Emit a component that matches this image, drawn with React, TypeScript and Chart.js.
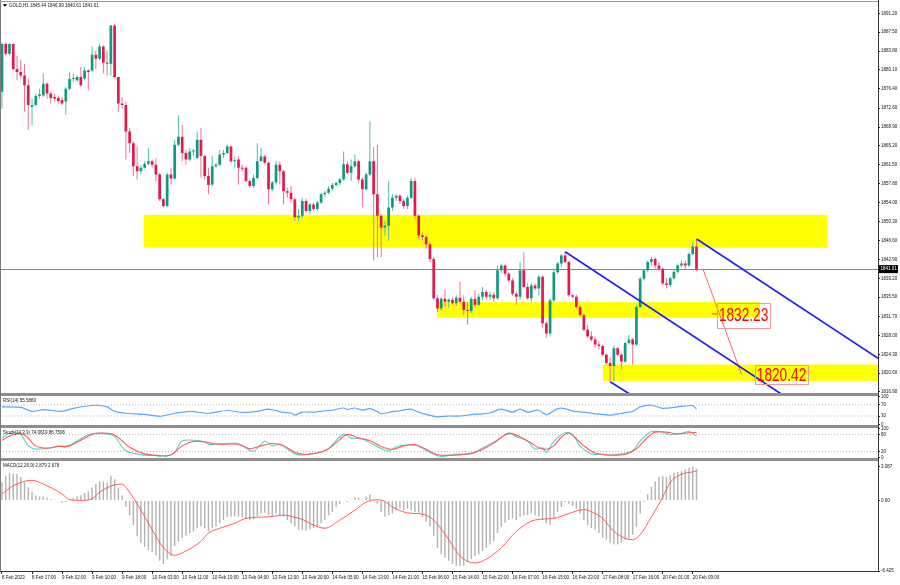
import React, { useEffect, useRef } from "react";
import { Chart, registerables } from "chart.js";

Chart.register(...registerables);

// ---------------- data ----------------
const OPEN = [
  1875.8, 1885.2, 1883.3, 1885.2, 1880.3, 1879.7, 1879.0, 1877.1, 1872.9, 1873.2,
  1875.0, 1875.1, 1877.4, 1875.5, 1874.8, 1874.6, 1874.2, 1873.9, 1876.4, 1878.3,
  1878.1, 1878.7, 1878.4, 1880.0, 1880.0, 1883.1, 1882.3, 1884.7, 1881.5, 1881.3,
  1888.8, 1878.7, 1873.5, 1873.2, 1868.0, 1865.7, 1861.2, 1860.2, 1860.9, 1861.7,
  1862.2, 1861.5, 1859.6, 1854.7, 1853.4, 1859.6, 1858.8, 1865.4, 1867.0, 1863.8,
  1862.5, 1864.1, 1862.8, 1866.4, 1863.2, 1859.3, 1857.6, 1861.2, 1861.5, 1863.5,
  1863.8, 1865.1, 1862.2, 1862.5, 1860.9, 1860.9, 1858.3, 1857.3, 1858.9, 1862.2,
  1863.1, 1861.9, 1856.7, 1858.0, 1861.5, 1860.2, 1856.3, 1856.0, 1854.7, 1851.2,
  1851.5, 1854.4, 1852.4, 1853.7, 1852.8, 1854.1, 1855.7, 1856.0, 1856.8, 1857.5,
  1857.9, 1858.6, 1861.6, 1859.9, 1861.2, 1862.2, 1858.6, 1856.7, 1859.6, 1862.2,
  1855.7, 1851.5, 1849.2, 1849.5, 1853.1, 1855.0, 1855.4, 1854.4, 1853.4, 1855.0,
  1858.3, 1851.5, 1847.6, 1847.3, 1845.9, 1843.0, 1835.3, 1833.3, 1835.2, 1834.6,
  1835.0, 1834.3, 1835.4, 1834.6, 1833.0, 1832.8, 1835.2, 1834.0, 1835.6, 1836.5,
  1835.6, 1836.0, 1835.3, 1840.8, 1841.7, 1840.1, 1838.8, 1836.2, 1835.6, 1840.8,
  1837.5, 1835.3, 1837.8, 1837.2, 1839.5, 1830.4, 1828.4, 1834.9, 1840.4, 1842.1,
  1843.7, 1842.4, 1835.9, 1835.6, 1833.6, 1832.0, 1829.1, 1827.8, 1827.2, 1826.2,
  1825.9, 1824.2, 1822.6, 1822.0, 1825.5, 1824.2, 1822.9, 1826.5, 1827.2, 1826.2,
  1833.6, 1839.1, 1840.8, 1842.4, 1843.0, 1841.7, 1841.1, 1838.2, 1837.9, 1839.2,
  1840.5, 1841.7, 1842.1, 1841.7, 1844.0, 1845.44,
];
const HIGH = [
  1885.5, 1885.5, 1885.4, 1885.3, 1882.9, 1882.0, 1881.3, 1878.4, 1874.5, 1875.5,
  1876.4, 1879.4, 1877.7, 1875.8, 1875.5, 1875.1, 1874.8, 1876.8, 1879.7, 1879.4,
  1879.0, 1880.7, 1880.7, 1880.3, 1884.7, 1883.9, 1885.2, 1884.9, 1883.9, 1888.9,
  1889.1, 1878.8, 1874.8, 1873.9, 1868.7, 1866.1, 1865.1, 1861.5, 1862.2, 1864.8,
  1862.5, 1862.8, 1859.9, 1855.0, 1859.9, 1860.9, 1866.4, 1871.2, 1869.3, 1864.4,
  1864.8, 1864.6, 1868.0, 1868.7, 1863.5, 1860.9, 1863.2, 1861.9, 1864.4, 1864.4,
  1865.4, 1865.2, 1863.1, 1863.1, 1861.5, 1861.2, 1858.6, 1859.6, 1865.7, 1864.8,
  1863.5, 1862.2, 1858.3, 1862.2, 1862.2, 1860.5, 1857.0, 1857.3, 1855.0, 1852.8,
  1855.0, 1854.8, 1854.0, 1854.1, 1854.4, 1856.0, 1856.4, 1857.3, 1857.9, 1858.2,
  1858.9, 1864.1, 1862.2, 1862.5, 1863.5, 1862.5, 1859.0, 1859.9, 1870.0, 1865.0,
  1865.4, 1851.8, 1850.5, 1858.3, 1855.7, 1855.7, 1855.7, 1854.7, 1855.4, 1858.9,
  1858.9, 1851.8, 1848.2, 1847.6, 1846.3, 1843.4, 1836.0, 1835.5, 1837.0, 1835.3,
  1835.5, 1835.9, 1838.5, 1835.9, 1834.6, 1835.6, 1836.9, 1836.2, 1837.5, 1836.9,
  1836.5, 1836.5, 1841.7, 1842.0, 1841.9, 1840.4, 1839.2, 1836.6, 1842.4, 1844.3,
  1838.2, 1838.2, 1838.2, 1839.8, 1839.8, 1830.8, 1835.3, 1841.0, 1842.4, 1844.0,
  1844.5, 1842.7, 1836.2, 1836.0, 1834.0, 1832.3, 1830.0, 1828.8, 1827.8, 1826.8,
  1826.2, 1824.5, 1823.6, 1826.0, 1825.8, 1824.5, 1826.8, 1828.1, 1827.5, 1834.0,
  1839.5, 1841.1, 1842.7, 1843.4, 1843.4, 1842.4, 1841.4, 1839.2, 1839.5, 1840.8,
  1842.1, 1842.7, 1842.7, 1844.3, 1846.3, 1846.99,
];
const LOW = [
  1872.5, 1882.9, 1882.9, 1880.0, 1878.1, 1878.4, 1871.9, 1868.3, 1869.3, 1872.9,
  1874.5, 1874.8, 1874.5, 1873.5, 1873.9, 1873.5, 1873.2, 1871.3, 1876.1, 1877.7,
  1877.7, 1876.8, 1878.1, 1876.1, 1879.7, 1880.3, 1882.0, 1879.4, 1879.0, 1879.0,
  1878.4, 1871.9, 1872.5, 1862.5, 1863.8, 1859.3, 1858.6, 1859.6, 1860.7, 1861.5,
  1860.9, 1858.3, 1854.4, 1853.1, 1853.1, 1857.6, 1858.6, 1865.1, 1862.2, 1861.5,
  1862.2, 1863.2, 1862.5, 1859.0, 1858.6, 1855.7, 1857.3, 1860.9, 1861.2, 1862.8,
  1863.5, 1861.9, 1860.9, 1857.6, 1860.2, 1858.0, 1857.0, 1857.0, 1858.6, 1862.2,
  1861.5, 1853.7, 1856.3, 1857.6, 1857.6, 1853.7, 1855.0, 1854.1, 1850.5, 1850.5,
  1851.0, 1852.0, 1851.8, 1852.5, 1852.5, 1853.8, 1855.2, 1855.7, 1856.4, 1857.2,
  1857.5, 1858.3, 1859.6, 1858.3, 1860.9, 1858.0, 1853.1, 1856.4, 1859.3, 1842.7,
  1843.4, 1843.4, 1847.6, 1846.6, 1852.4, 1854.4, 1853.8, 1852.8, 1852.8, 1854.7,
  1850.8, 1847.0, 1846.7, 1845.0, 1842.3, 1835.0, 1832.6, 1832.8, 1833.6, 1833.5,
  1833.9, 1833.8, 1834.2, 1832.0, 1830.1, 1832.4, 1833.6, 1833.8, 1834.9, 1835.2,
  1834.9, 1834.6, 1835.0, 1840.2, 1839.6, 1838.5, 1835.8, 1834.0, 1835.0, 1837.2,
  1835.0, 1834.6, 1836.9, 1835.9, 1829.5, 1827.5, 1827.8, 1834.6, 1840.1, 1841.5,
  1842.2, 1835.6, 1835.3, 1833.3, 1831.7, 1828.8, 1827.5, 1826.8, 1825.5, 1825.2,
  1823.9, 1822.3, 1819.0, 1819.0, 1823.9, 1821.3, 1822.6, 1826.2, 1822.3, 1825.9,
  1833.3, 1838.8, 1840.4, 1841.7, 1841.1, 1840.8, 1837.8, 1837.2, 1837.5, 1839.0,
  1840.2, 1841.4, 1840.8, 1841.4, 1843.7, 1840.61,
];
const CLOSE = [
  1885.2, 1883.3, 1885.2, 1880.3, 1879.7, 1879.0, 1877.1, 1873.2, 1873.2, 1875.0,
  1875.3, 1877.4, 1875.5, 1874.6, 1874.5, 1874.0, 1873.5, 1876.4, 1878.3, 1878.5,
  1878.7, 1877.1, 1880.0, 1879.7, 1883.1, 1882.3, 1884.7, 1881.5, 1881.3, 1888.8,
  1878.7, 1873.5, 1873.2, 1868.0, 1865.7, 1861.2, 1860.2, 1860.9, 1861.7, 1862.2,
  1861.5, 1859.6, 1854.7, 1853.4, 1859.6, 1858.8, 1865.4, 1867.0, 1863.8, 1862.5,
  1864.1, 1864.3, 1866.4, 1863.2, 1859.3, 1857.5, 1861.2, 1861.5, 1863.5, 1863.8,
  1865.1, 1862.2, 1862.3, 1860.9, 1860.7, 1858.3, 1857.3, 1858.9, 1862.2, 1863.1,
  1861.9, 1856.7, 1858.0, 1861.5, 1860.2, 1856.3, 1856.0, 1854.7, 1851.2, 1851.5,
  1854.4, 1852.4, 1853.7, 1852.8, 1854.1, 1855.7, 1856.0, 1856.8, 1857.5, 1857.9,
  1858.6, 1861.6, 1859.9, 1861.2, 1862.2, 1858.6, 1856.7, 1859.6, 1862.2, 1855.7,
  1851.5, 1849.2, 1849.5, 1853.1, 1855.0, 1855.4, 1854.4, 1853.4, 1855.0, 1858.3,
  1851.5, 1847.6, 1847.3, 1845.9, 1843.0, 1835.3, 1833.3, 1835.2, 1834.6, 1835.0,
  1834.3, 1835.4, 1834.6, 1833.0, 1832.8, 1835.2, 1834.0, 1835.6, 1836.5, 1835.6,
  1836.0, 1835.3, 1840.8, 1841.7, 1840.1, 1838.8, 1836.2, 1835.6, 1840.8, 1837.5,
  1835.3, 1837.8, 1837.2, 1839.5, 1830.4, 1828.4, 1834.9, 1840.4, 1842.1, 1843.7,
  1842.4, 1835.9, 1835.6, 1833.6, 1832.0, 1829.1, 1827.8, 1827.2, 1826.2, 1825.9,
  1824.2, 1822.6, 1822.0, 1825.5, 1824.2, 1822.9, 1826.5, 1827.2, 1826.2, 1833.6,
  1839.1, 1840.8, 1842.4, 1843.0, 1841.7, 1841.1, 1838.2, 1837.9, 1839.2, 1840.5,
  1841.7, 1842.1, 1841.7, 1844.0, 1845.44, 1841.01,
];

const LAST_PRICE = 1841.01;
const HEADER_TEXT = "GOLD,H1 1845.44 1846.99 1840.61 1841.01";
const PRICE_MIN = 1816.7;
const PRICE_MAX = 1893.1;
const PRICE_TICKS = [
  1891.2, 1887.5, 1883.8, 1880.1, 1876.4, 1872.6, 1868.9, 1865.2, 1861.5, 1857.8, 1854.0,
  1850.3, 1846.6, 1842.9, 1839.2, 1835.5, 1831.7, 1828.0, 1824.3, 1820.6, 1816.9,
];

const TIME_TICK_BARS = [0, 8, 16, 24, 32, 40, 48, 56, 64, 72, 80, 88, 96, 104, 112, 120, 128, 136, 144, 152, 160, 168, 176, 184];
const TIME_LABELS = [
  "8 Feb 2023", "8 Feb 17:00", "9 Feb 02:00", "9 Feb 10:00", "9 Feb 18:00", "10 Feb 03:00",
  "10 Feb 11:00", "10 Feb 19:00", "13 Feb 04:00", "13 Feb 12:00", "13 Feb 20:00", "14 Feb 05:00",
  "14 Feb 13:00", "14 Feb 21:00", "15 Feb 06:00", "15 Feb 14:00", "15 Feb 22:00", "16 Feb 07:00",
  "16 Feb 15:00", "16 Feb 23:00", "17 Feb 08:00", "17 Feb 16:00", "20 Feb 01:00", "20 Feb 09:00",
];

// yellow zones
const ZONE_FROM = [37.8, 115.9, 160.1];
const ZONE_TO = [219.8, 201.9, 240];
const ZONE_TOP = [1851.66, 1834.52, 1822.29];
const ZONE_BOTTOM = [1845.21, 1831.47, 1819.08];

// blue channel lines
const CHANNEL_FROM_BAR = [150.0, 162.0, 185.05];
const CHANNEL_FROM_PRICE = [1844.43, 1818.89, 1846.91];
const CHANNEL_TO_BAR = [210, 168, 236];
const CHANNEL_TO_PRICE = [1815.34, 1816.15, 1822.24];

// thin red projection line
const TARGET_LINE_BAR = [186.8, 197.0];
const TARGET_LINE_PRICE = [1840.9, 1820.35];

// price labels
const LABEL_TEXT = ["1832.23", "1820.42"];
const LABEL_LEFT = [190.5, 200.6];
const LABEL_RIGHT = [204.6, 214.7];
const LABEL_TOP = [1834.46, 1822.15];
const LABEL_BOTTOM = [1829.57, 1818.44];

// RSI(14)
const RSI_TITLE = "RSI(14) 55.5860";
const RSI_AT = [0, 5, 8, 11, 16, 19, 25, 28, 30, 33, 38, 42, 46, 50, 55, 60, 64, 68, 71, 75, 77, 78, 80, 83, 86, 88, 91, 92, 94, 96, 98, 100, 101, 104, 106, 109, 111, 113, 116, 119, 122, 125, 128, 130, 133, 136, 138, 140, 143, 145, 148, 150, 152, 155, 158, 160, 162, 165, 168, 170, 173, 176, 180, 184, 185];
const RSI = [63, 61, 47, 53, 47, 58, 69, 63, 47, 40, 36, 29, 40, 47, 40, 50, 43, 47, 55, 43, 41, 33, 44, 44, 49, 51, 59, 54, 59, 51, 57, 46, 38, 46, 49, 55, 44, 36, 27, 30, 30, 35, 38, 41, 55, 44, 55, 44, 51, 35, 57, 57, 48, 44, 38, 36, 33, 40, 47, 63, 69, 58, 63, 68, 55.586];
const RSI_LEVELS = [70, 30];
const RSI_TICKS = [100, 70, 30, 0];

// Stochastic(14,3,3)
const STOCH_TITLE = "Stoch(14,3,3) 74.0619 86.7596";
const STOCH_K_AT = [0, 2, 5, 7, 9, 13, 15, 17, 20, 23, 25, 28, 30, 33, 38, 41, 43, 46, 48, 53, 55, 57, 62, 64, 67, 70, 72, 74, 76, 78, 80, 82, 86, 88, 91, 93, 96, 99, 103, 105, 109, 111, 114, 117, 121, 125, 128, 132, 135, 137, 140, 142, 144, 145, 147, 150, 152, 154, 157, 160, 162, 165, 168, 170, 173, 176, 178, 181, 183, 185];
const STOCH_K = [68, 84, 80, 40, 29, 33, 40, 36, 57, 79, 84, 82, 73, 23, 7, 7, 1, 18, 57, 57, 46, 46, 49, 40, 21, 57, 40, 46, 30, 12, 8, 12, 22, 44, 81, 67, 64, 44, 22, 37, 44, 39, 17, 3, 11, 12, 33, 61, 86, 72, 56, 28, 33, 17, 56, 86, 79, 39, 12, 10, 7, 12, 23, 57, 90, 88, 79, 84, 90, 74.06];
const STOCH_D_AT = [0, 3, 6, 9, 12, 15, 18, 21, 24, 27, 30, 34, 38, 42, 45, 48, 51, 54, 57, 60, 63, 66, 69, 72, 75, 78, 81, 84, 87, 90, 92, 95, 98, 101, 104, 107, 110, 113, 116, 120, 124, 127, 131, 134, 136, 139, 141, 143, 145, 147, 149, 151, 153, 155, 158, 162, 166, 169, 172, 174, 177, 180, 183, 185];
const STOCH_D = [60, 80, 78, 40, 32, 38, 40, 60, 80, 85, 78, 35, 12, 6, 8, 40, 55, 54, 46, 46, 46, 30, 40, 48, 40, 18, 10, 15, 30, 62, 80, 68, 58, 38, 28, 40, 44, 28, 9, 7, 12, 22, 50, 78, 82, 65, 50, 33, 28, 40, 70, 85, 65, 40, 15, 8, 10, 30, 70, 88, 88, 82, 86, 86.76];
const STOCH_LEVELS = [80, 20];
const STOCH_TICKS = [100, 80, 20, 0];

// MACD(12,26,9)
const MACD_TITLE = "MACD(12,26,9) 2.879 2.678";
const MACD = [
  1.63, 2.23, 2.53, 2.44, 2.38, 2.14, 1.63, 1.19, 0.74, 0.45,
  0.36, 0.36, 0.24, 0.12, 0.06, -0.06, -0.24, -0.15, 0.06, 0.24,
  0.36, 0.48, 0.68, 0.83, 1.19, 1.49, 1.72, 1.72, 1.63, 2.23,
  1.93, 1.19, 0.45, -0.59, -1.34, -2.23, -3.27, -3.86, -4.22, -4.52,
  -4.69, -4.99, -5.5, -5.79, -5.35, -5.05, -4.16, -3.71, -3.42, -3.21,
  -2.97, -2.82, -2.53, -2.38, -2.53, -2.82, -2.53, -2.38, -2.08, -1.78,
  -1.54, -1.49, -1.43, -1.49, -1.54, -1.63, -1.78, -1.72, -1.43, -1.19,
  -1.13, -1.34, -1.43, -1.19, -1.34, -1.49, -1.78, -2.08, -2.38, -2.67,
  -2.67, -2.73, -2.61, -2.53, -2.38, -2.08, -1.78, -1.34, -1.04, -0.59,
  -0.3, -0.06, -0.15, 0.06, 0.3, 0.24, 0.06, 0.36, 0.59, 0.06,
  -0.3, -1.04, -1.49, -1.34, -1.19, -0.89, -0.74, -0.89, -0.74, -0.89,
  -1.04, -1.13, -1.49, -1.93, -2.38, -3.27, -4.31, -4.9, -5.2, -5.5,
  -5.79, -5.94, -6.0, -5.94, -5.64, -5.35, -5.05, -4.9, -4.6, -4.31,
  -4.01, -3.71, -2.97, -2.38, -2.02, -1.78, -1.63, -1.78, -1.49, -1.34,
  -1.34, -1.19, -1.34, -1.49, -1.78, -2.08, -2.23, -1.63, -1.04, -0.59,
  -0.15, -0.3, -0.53, -0.74, -1.19, -1.78, -2.23, -2.53, -2.67, -2.97,
  -3.42, -3.57, -3.86, -4.01, -4.01, -3.86, -3.57, -3.42, -3.12, -2.38,
  -1.19, -0.15, 0.59, 1.25, 1.72, 2.14, 2.23, 2.14, 2.32, 2.53,
  2.61, 2.67, 2.82, 2.97, 3.087, 2.879,
];
const SIGNAL_AT = [0, 3, 8, 11, 16, 18, 21, 24, 26, 30, 32, 33, 36, 40, 43, 46, 49, 53, 55, 58, 62, 65, 71, 75, 78, 80, 82, 86, 90, 94, 97, 100, 102, 104, 108, 112, 115, 119, 122, 126, 129, 133, 137, 142, 147, 151, 155, 158, 160, 163, 168, 170, 173, 176, 178, 181, 184, 185];
const SIGNAL = [0.59, 1.34, 1.84, 1.49, 0.59, 0.06, 0, 0.15, 0.74, 1.43, 1.49, 1.19, -0.3, -2.67, -4.31, -4.99, -4.6, -3.71, -2.97, -2.53, -2.08, -1.63, -1.49, -1.34, -1.54, -1.72, -2.08, -2.53, -1.78, -0.89, -0.15, 0.06, -0.1, -0.59, -1.13, -1.25, -1.78, -3.57, -5.05, -5.7, -5.35, -4.31, -2.82, -1.78, -1.63, -1.19, -0.83, -1.19, -1.63, -2.82, -3.57, -3.12, -1.49, 0.3, 1.63, 2.38, 2.6, 2.678];
const MACD_MIN = -6.425;
const MACD_MAX = 3.53;
const MACD_TICKS = [3.087, 0, -6.425];
const MACD_TICK_LABELS = ["3.087", "0.00", "-6.425"];

// ---------------- styling ----------------
const FONT = "'Liberation Sans', Arial, Helvetica, sans-serif";
const SMALL = 4.5;
const X_MIN = -0.53;
const X_MAX = 233.35;
const AXIS_W = 22;
const BODY_UP = "#10997f";
const BODY_DN = "#e5174b";
const WICK_UP = "#4fbfa9";
const WICK_DN = "#ef7394";
const BLUE = "#2222ee";

const BARS = OPEN.map((_, i) => i);

function text(ctx: any, s: string, x: number, y: number, size: number, color = "#111") {
  ctx.save();
  ctx.font = `${size}px ${FONT}`;
  ctx.fillStyle = color;
  ctx.textAlign = "left";
  ctx.textBaseline = "middle";
  ctx.fillText(s, x, y);
  ctx.restore();
}

function baseOptions(padTop: number, padBottom: number) {
  return {
    responsive: false,
    maintainAspectRatio: false,
    animation: false,
    devicePixelRatio: 1,
    events: [],
    layout: { padding: { top: padTop, bottom: padBottom, left: 0, right: 0 }, autoPadding: false },
    plugins: { legend: { display: false }, tooltip: { enabled: false }, title: { display: false } },
  };
}

function hiddenX() {
  return { type: "linear", min: X_MIN, max: X_MAX, bounds: "data", offset: false, display: false, grid: { offset: false } };
}

function rightAxis(min: number, max: number, ticks: number[], fmt: (v: number, i: number) => string) {
  return {
    type: "linear",
    position: "right",
    min,
    max,
    bounds: "data",
    afterFit: (s: any) => {
      s.width = AXIS_W;
    },
    afterBuildTicks: (s: any) => {
      s.ticks = ticks.map((v) => ({ value: v }));
    },
    ticks: {
      autoSkip: false,
      padding: 1,
      color: "#111",
      font: { family: FONT, size: SMALL },
      callback: (v: any, i: number) => fmt(Number(v), i),
    },
    grid: { drawOnChartArea: false, drawTicks: true, tickLength: 2, color: "#222" },
    border: { display: true, color: "#333", width: 1 },
  };
}

function titlePlugin(id: string, title: string) {
  return {
    id,
    afterDraw(chart: any) {
      text(chart.ctx, title, chart.chartArea.left + 3, chart.chartArea.top + 4.5, SMALL);
    },
  };
}

function levelDataset(v: number) {
  return {
    type: "line",
    data: [
      { x: X_MIN, y: v },
      { x: X_MAX, y: v },
    ],
    borderColor: "#b4b4b4",
    borderWidth: 1,
    borderDash: [1, 2],
    pointRadius: 0,
    order: 5,
  };
}

// ---------------- main price panel ----------------
const mainDecor = {
  id: "mainDecor",
  beforeDatasetsDraw(chart: any) {
    const { ctx, chartArea: a } = chart;
    const x = chart.scales.x;
    const y = chart.scales.y;
    ctx.save();
    ctx.beginPath();
    ctx.rect(a.left, a.top, a.right - a.left, a.bottom - a.top);
    ctx.clip();
    ctx.fillStyle = "#ffff00";
    ZONE_FROM.forEach((_, k) => {
      const x0 = x.getPixelForValue(ZONE_FROM[k]);
      const x1 = x.getPixelForValue(ZONE_TO[k]);
      const y0 = y.getPixelForValue(ZONE_TOP[k]);
      const y1 = y.getPixelForValue(ZONE_BOTTOM[k]);
      ctx.fillRect(x0, y0, x1 - x0, y1 - y0);
    });
    const yc = Math.round(y.getPixelForValue(LAST_PRICE)) + 0.5;
    ctx.strokeStyle = "#858585";
    ctx.lineWidth = 1;
    ctx.beginPath();
    ctx.moveTo(a.left, yc);
    ctx.lineTo(a.right, yc);
    ctx.stroke();
    ctx.restore();
  },
  afterDatasetsDraw(chart: any) {
    const { ctx } = chart;
    const x = chart.scales.x;
    const y = chart.scales.y;
    LABEL_TEXT.forEach((s, k) => {
      const x0 = x.getPixelForValue(LABEL_LEFT[k]);
      const x1 = x.getPixelForValue(LABEL_RIGHT[k]);
      const y0 = y.getPixelForValue(LABEL_TOP[k]);
      const y1 = y.getPixelForValue(LABEL_BOTTOM[k]);
      ctx.save();
      ctx.strokeStyle = "#f09a9a";
      ctx.lineWidth = 1;
      ctx.strokeRect(Math.round(x0) + 0.5, Math.round(y0) + 0.5, Math.round(x1 - x0), Math.round(y1 - y0));
      ctx.font = `19px ${FONT}`;
      ctx.fillStyle = "#ff0000";
      ctx.textAlign = "center";
      ctx.textBaseline = "middle";
      ctx.translate((x0 + x1) / 2, (y0 + y1) / 2 + 1);
      ctx.scale(0.72, 1);
      ctx.fillText(s, 0, 0);
      ctx.restore();
    });
    // small anchor dash of the first label
    const yd = y.getPixelForValue(1832.23);
    ctx.save();
    ctx.strokeStyle = "#ff3030";
    ctx.lineWidth = 1;
    ctx.beginPath();
    ctx.moveTo(x.getPixelForValue(LABEL_LEFT[0] - 1.4), yd);
    ctx.lineTo(x.getPixelForValue(LABEL_LEFT[0]), yd);
    ctx.stroke();
    ctx.restore();
  },
  afterDraw(chart: any) {
    const { ctx, chartArea: a } = chart;
    const y = chart.scales.y;
    // header
    ctx.save();
    ctx.fillStyle = "#111";
    ctx.beginPath();
    ctx.moveTo(3, 4);
    ctx.lineTo(7, 4);
    ctx.lineTo(5, 7);
    ctx.closePath();
    ctx.fill();
    ctx.restore();
    text(ctx, HEADER_TEXT, 9, 5.5, SMALL);
    // current price tag
    const yp = y.getPixelForValue(LAST_PRICE);
    ctx.save();
    ctx.fillStyle = "#000";
    ctx.fillRect(a.right + 1, yp - 4, 19, 8);
    ctx.restore();
    text(ctx, LAST_PRICE.toFixed(2), a.right + 2.5, yp, SMALL, "#fff");
  },
};

function mainConfig() {
  const up = BARS.map((i) => CLOSE[i] >= OPEN[i]);
  const lines = CHANNEL_FROM_BAR.map((_, k) => ({
    type: "line",
    data: [
      { x: CHANNEL_FROM_BAR[k], y: CHANNEL_FROM_PRICE[k] },
      { x: CHANNEL_TO_BAR[k], y: CHANNEL_TO_PRICE[k] },
    ],
    borderColor: BLUE,
    borderWidth: 1.7,
    pointRadius: 0,
    order: 0,
  }));
  return {
    type: "bar",
    data: {
      datasets: [
        {
          type: "bar",
          data: BARS.map((i) => ({ x: i, y: [LOW[i], HIGH[i]] })),
          backgroundColor: up.map((u) => (u ? WICK_UP : WICK_DN)),
          grouped: false,
          maxBarThickness: 1,
          borderWidth: 0,
          inflateAmount: 0,
          order: 3,
        },
        {
          type: "bar",
          data: BARS.map((i) => ({ x: i, y: [OPEN[i], CLOSE[i]] })),
          backgroundColor: up.map((u) => (u ? BODY_UP : BODY_DN)),
          grouped: false,
          maxBarThickness: 2.7,
          minBarLength: 1,
          borderWidth: 0,
          inflateAmount: 0,
          order: 2,
        },
        ...lines,
        {
          type: "line",
          data: TARGET_LINE_BAR.map((b, k) => ({ x: b, y: TARGET_LINE_PRICE[k] })),
          borderColor: "#f26868",
          borderWidth: 1,
          pointRadius: 0,
          order: 0,
        },
      ],
    },
    options: {
      ...baseOptions(2, 5),
      scales: {
        x: hiddenX(),
        y: rightAxis(PRICE_MIN, PRICE_MAX, PRICE_TICKS, (v) => v.toFixed(2)),
      },
    },
    plugins: [mainDecor],
  };
}

// ---------------- RSI ----------------
function rsiConfig() {
  return {
    type: "line",
    data: {
      datasets: [
        {
          data: RSI_AT.map((b, k) => ({ x: b, y: RSI[k] })),
          borderColor: "#5aa9fb",
          borderWidth: 1.2,
          pointRadius: 0,
          tension: 0.25,
          order: 1,
        },
        ...RSI_LEVELS.map(levelDataset),
      ],
    },
    options: {
      ...baseOptions(3, 3),
      scales: { x: hiddenX(), y: rightAxis(0, 100, RSI_TICKS, (v) => String(v)) },
    },
    plugins: [titlePlugin("rsiTitle", RSI_TITLE)],
  };
}

// ---------------- Stochastic ----------------
function stochConfig() {
  return {
    type: "line",
    data: {
      datasets: [
        {
          data: STOCH_K_AT.map((b, k) => ({ x: b, y: STOCH_K[k] })),
          borderColor: "#5fd0c6",
          borderWidth: 1.1,
          pointRadius: 0,
          tension: 0.3,
          order: 2,
        },
        {
          data: STOCH_D_AT.map((b, k) => ({ x: b, y: STOCH_D[k] })),
          borderColor: "#ff5a5a",
          borderWidth: 1.1,
          pointRadius: 0,
          tension: 0.3,
          order: 1,
        },
        ...STOCH_LEVELS.map(levelDataset),
      ],
    },
    options: {
      ...baseOptions(3, 3),
      scales: { x: hiddenX(), y: rightAxis(0, 100, STOCH_TICKS, (v) => String(v)) },
    },
    plugins: [titlePlugin("stochTitle", STOCH_TITLE)],
  };
}

// ---------------- MACD ----------------
function macdConfig() {
  return {
    type: "bar",
    data: {
      datasets: [
        {
          type: "bar",
          data: BARS.map((i) => ({ x: i, y: MACD[i] })),
          backgroundColor: "#b2b2b2",
          grouped: false,
          maxBarThickness: 1.4,
          borderWidth: 0,
          inflateAmount: 0,
          order: 2,
        },
        {
          type: "line",
          data: SIGNAL_AT.map((b, k) => ({ x: b, y: SIGNAL[k] })),
          borderColor: "#ff5a5a",
          borderWidth: 1,
          pointRadius: 0,
          cubicInterpolationMode: "monotone",
          order: 1,
        },
      ],
    },
    options: {
      ...baseOptions(3, 0),
      scales: {
        x: {
          type: "linear",
          position: "bottom",
          min: X_MIN,
          max: X_MAX,
          bounds: "data",
          offset: false,
          afterFit: (s: any) => {
            s.height = 14;
          },
          afterBuildTicks: (s: any) => {
            s.ticks = TIME_TICK_BARS.map((v) => ({ value: v }));
          },
          ticks: {
            autoSkip: false,
            maxRotation: 0,
            minRotation: 0,
            align: "start",
            padding: 1,
            color: "#111",
            font: { family: FONT, size: SMALL },
            callback: (_v: any, i: number) => TIME_LABELS[i],
          },
          grid: { drawOnChartArea: false, drawTicks: true, tickLength: 3, color: "#222", offset: false },
          border: { display: true, color: "#333" },
        },
        y: rightAxis(MACD_MIN, MACD_MAX, MACD_TICKS, (_v, i) => MACD_TICK_LABELS[i]),
      },
    },
    plugins: [titlePlugin("macdTitle", MACD_TITLE)],
  };
}

function Panel({ top, height, make }: { top: number; height: number; make: () => any }) {
  const ref = useRef<HTMLCanvasElement | null>(null);
  useEffect(() => {
    if (!ref.current) return;
    const chart = new Chart(ref.current, make());
    return () => chart.destroy();
  }, [make]);
  return (
    <canvas
      ref={ref}
      width={900}
      height={height}
      style={{ position: "absolute", left: 0, top, width: 900, height, display: "block" }}
    />
  );
}

export default function App() {
  return (
    <div style={{ position: "fixed", left: 0, top: 0, width: 900, height: 585, background: "#fff", overflow: "hidden" }}>
      <Panel top={0} height={398} make={mainConfig} />
      <Panel top={393} height={35} make={rsiConfig} />
      <Panel top={425} height={36} make={stochConfig} />
      <Panel top={458} height={127} make={macdConfig} />
      {[393, 425, 458].map((t) => (
        <div key={t} style={{ position: "absolute", left: 0, top: t, width: 878, height: 3, background: "#8e8e8e" }} />
      ))}
      <div style={{ position: "absolute", left: 0, top: 0, width: 1, height: 571, background: "#7a7a7a" }} />
      <div style={{ position: "absolute", left: 0, top: 1, width: 878, height: 1, background: "#9a9a9a" }} />
      <div style={{ position: "absolute", left: 878, top: 0, width: 1, height: 571, background: "#333" }} />
    </div>
  );
}
